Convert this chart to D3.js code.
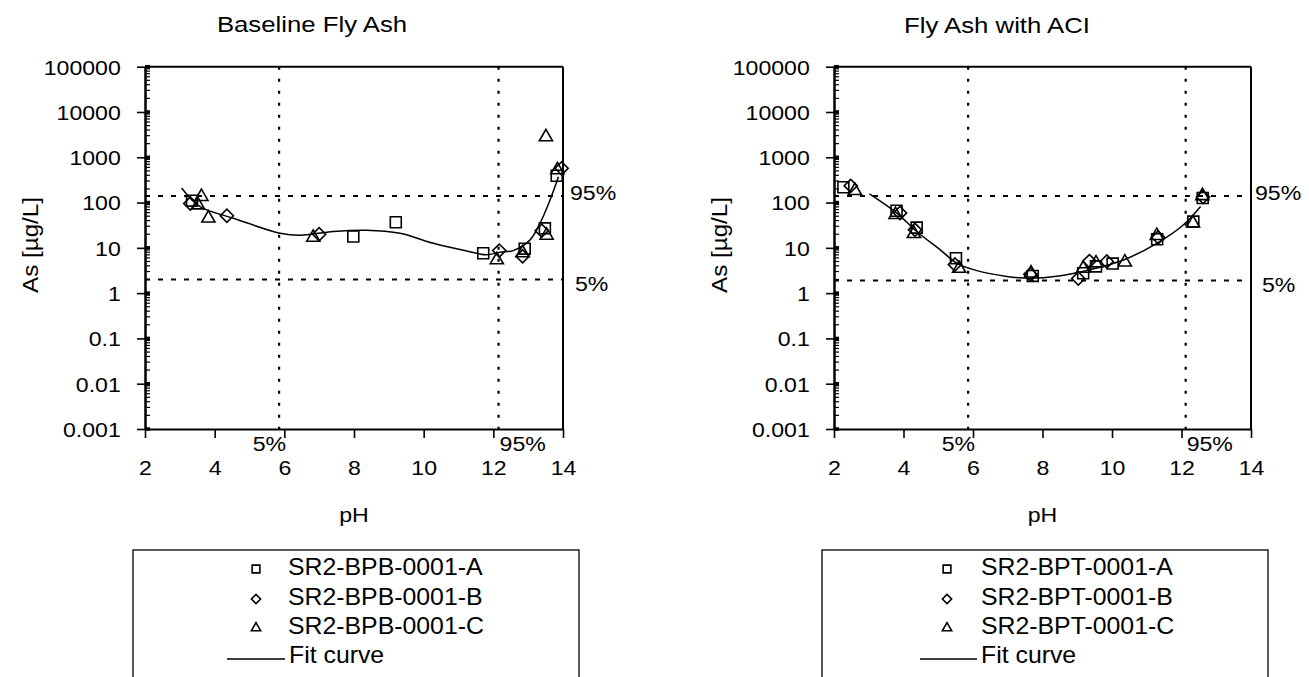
<!DOCTYPE html>
<html>
<head>
<meta charset="utf-8">
<script src="https://cdn.jsdelivr.net/npm/d3@7"></script>
<style>
  body { margin: 0; background: #fff; }
  text { font-family: "Liberation Sans", Arial, sans-serif; fill: #000; }
</style>
</head>
<body>
<svg id="chart" width="1309" height="677"></svg>
<script>
// ---- axis ticks ----
var xTicks = [2, 4, 6, 8, 10, 12, 14];
var yTicks = [0.001, 0.01, 0.1, 1, 10, 100, 1000, 10000, 100000];
var yTickLabels = ["0.001", "0.01", "0.1", "1", "10", "100", "1000", "10000", "100000"];

// ---- Baseline Fly Ash (SR2-BPB-0001) ----
var bpbA_pH = [3.35, 7.98, 9.2, 11.71, 12.9, 13.48, 13.82];
var bpbA_as = [110, 17.8, 36.7, 7.6, 9.6, 27, 390];
var bpbB_pH = [3.3, 4.35, 7.0, 12.17, 12.84, 13.39, 13.96];
var bpbB_as = [95, 51, 20, 8.7, 6.5, 24, 570];
var bpbC_pH = [3.52, 3.62, 3.82, 6.83, 12.1, 12.84, 13.53, 13.51, 13.84];
var bpbC_as = [88, 135, 45, 17, 5.4, 7.7, 18.8, 2800, 525];
var bpbFit_pH = [3.05, 3.58, 4.54, 5.88, 6.45, 7.4, 8.36, 9.32, 10.28, 11.24, 11.8, 12.19, 12.57, 13.05, 13.34, 13.63, 13.87];
var bpbFit_as = [209, 81, 45, 21, 19, 23, 24.5, 21, 12.6, 8.5, 7.0, 8, 8.7, 14.8, 35, 115, 370];
var bpbPctPH = [5.85, 12.15];
var bpbPctAs = [2.0, 140];

// ---- Fly Ash with ACI (SR2-BPT-0001) ----
var bptA_pH = [2.27, 3.8, 4.38, 5.51, 7.72, 9.17, 9.54, 10.02, 11.3, 12.34, 12.61];
var bptA_as = [218, 66, 28, 5.9, 2.4, 2.75, 3.9, 4.5, 15.5, 38, 126];
var bptB_pH = [2.48, 3.9, 4.33, 5.48, 7.65, 9.03, 9.35, 9.85, 11.33, 12.62];
var bptB_as = [234, 59, 25, 4.3, 2.6, 2.1, 5.1, 5.0, 17, 133];
var bptC_pH = [2.6, 3.77, 4.3, 5.6, 7.67, 9.17, 9.54, 10.37, 11.29, 12.33, 12.6];
var bptC_as = [182, 54, 20.5, 3.5, 2.75, 3.5, 4.6, 4.8, 18.6, 35, 141];
var bptFit_pH = [3.02, 3.8, 4.38, 5.05, 5.53, 6.01, 6.97, 7.64, 8.41, 9.37, 10.33, 11.29, 12.05, 12.55];
var bptFit_as = [155, 59, 23, 9.1, 4.6, 3.3, 2.34, 2.14, 2.35, 3.3, 5.4, 12.6, 32, 82];
var bptPctPH = [5.86, 12.12];
var bptPctAs = [1.9, 140];

var svg = d3.select("#chart");
var yTop = 66.7, yBot = 429;
var STRETCH = 1.1;   // the scanned text is a bit wider than Arial

function zip(a, b) { return a.map(function(v, i) { return [v, b[i]]; }); }

function symbolPath(kind, size) {
  if (kind == "square") return d3.symbol().type(d3.symbolSquare).size(size)();
  if (kind == "diamond") return d3.symbol().type(d3.symbolSquare).size(size * 0.72)();
  return d3.symbol().type(d3.symbolTriangle).size(size * 0.62)();
}

function drawPanel(p) {
  var x = d3.scaleLinear().domain([2, 14]).range([p.left, p.right]);
  var y = d3.scaleLog().domain([0.001, 100000]).range([yBot, yTop]);
  var g = svg.append("g");

  // title (sits left of the plot centre in the original)
  g.append("text")
    .attr("transform", "translate(" + p.titleX + "," + p.titleY + ") scale(1.17,1)")
    .attr("text-anchor", "middle")
    .style("font-size", "22px")
    .text(p.title);

  // frame top + right
  g.append("line").attr("x1", p.left).attr("x2", p.right).attr("y1", yTop).attr("y2", yTop)
    .attr("stroke", "#000").attr("stroke-width", 2);
  g.append("line").attr("x1", p.right).attr("x2", p.right).attr("y1", yTop).attr("y2", yBot)
    .attr("stroke", "#000").attr("stroke-width", 2);

  // percentile lines
  g.selectAll(".vpct").data(p.pctPH).enter().append("line")
    .attr("x1", function(d) { return x(d); }).attr("x2", function(d) { return x(d); })
    .attr("y1", yTop).attr("y2", yBot)
    .attr("stroke", "#000").attr("stroke-width", 2.2).attr("stroke-dasharray", "3,9");
  g.selectAll(".hpct").data(p.pctAs).enter().append("line")
    .attr("x1", p.left).attr("x2", p.right)
    .attr("y1", function(d) { return y(d); }).attr("y2", function(d) { return y(d); })
    .attr("stroke", "#000").attr("stroke-width", 2).attr("stroke-dasharray", "5,8");

  // x axis
  var xAxis = d3.axisBottom(x).tickValues(xTicks).tickSize(9).tickSizeOuter(0).tickFormat(d3.format("d"));
  var gx = g.append("g").attr("transform", "translate(0," + yBot + ")").call(xAxis);
  gx.select(".domain").attr("stroke-width", 2);
  gx.selectAll(".tick line").attr("stroke-width", 1.6);
  gx.selectAll(".tick text").attr("y", 46).attr("dy", 0)
    .attr("transform", "scale(" + STRETCH + ",1)")
    .style("font-size", "21px").style("font-family", "Liberation Sans, Arial, sans-serif");

  // y axis
  var yAxis = d3.axisLeft(y).tickValues(yTicks).tickSize(8).tickSizeOuter(0).tickPadding(14)
    .tickFormat(function(d, i) { return yTickLabels[i]; });
  var gy = g.append("g").attr("transform", "translate(" + p.left + ",0)").call(yAxis);
  gy.select(".domain").attr("stroke-width", 2.5);
  gy.selectAll(".tick line").attr("stroke-width", 1.6);
  gy.selectAll(".tick text").attr("dy", "0.35em")
    .attr("transform", "scale(" + STRETCH + ",1)")
    .style("font-size", "21px").style("font-family", "Liberation Sans, Arial, sans-serif");

  // minor ticks (inward) + heavy inner major ticks
  var minor = [];
  yTicks.slice(0, -1).forEach(function(d) {
    for (var k = 2; k <= 9; k++) minor.push(d * k);
  });
  g.selectAll(".minor").data(minor).enter().append("line")
    .attr("x1", p.left).attr("x2", p.left + 5)
    .attr("y1", function(d) { return y(d); }).attr("y2", function(d) { return y(d); })
    .attr("stroke", "#000").attr("stroke-width", 1.2);
  g.selectAll(".major").data(yTicks).enter().append("line")
    .attr("x1", p.left).attr("x2", p.left + 5)
    .attr("y1", function(d) { return y(d); }).attr("y2", function(d) { return y(d); })
    .attr("stroke", "#000").attr("stroke-width", 3.5);

  // percentile labels
  g.append("text").attr("transform", "translate(" + (x(p.pctPH[0]) + 7) + ",451) scale(" + STRETCH + ",1)")
    .attr("text-anchor", "end").style("font-size", "21px").text("5%");
  g.append("text").attr("transform", "translate(" + (x(p.pctPH[1]) + 1) + ",451) scale(" + STRETCH + ",1)")
    .attr("text-anchor", "start").style("font-size", "21px").text("95%");
  g.append("text").attr("transform", "translate(" + (p.right + p.pctOff[0]) + "," + (y(p.pctAs[1]) + 4) + ") scale(" + STRETCH + ",1)")
    .style("font-size", "21px").text("95%");
  g.append("text").attr("transform", "translate(" + (p.right + p.pctOff[1]) + "," + (y(p.pctAs[0]) + 11) + ") scale(" + STRETCH + ",1)")
    .style("font-size", "21px").text("5%");

  // axis titles
  g.append("text")
    .attr("transform", "translate(" + (p.left + p.right) / 2 + ",522) scale(" + STRETCH + ",1)")
    .attr("text-anchor", "middle").style("font-size", "21px").text("pH");
  g.append("text")
    .attr("transform", "translate(" + (p.left - 107) + ",245) rotate(-90) scale(" + STRETCH + ",1)")
    .attr("text-anchor", "middle").style("font-size", "22px").text("As [\u00b5g/L]");

  // fit curve
  var line = d3.line()
    .x(function(d) { return x(d[0]); })
    .y(function(d) { return y(d[1]); })
    .curve(d3.curveCatmullRom.alpha(0.5));
  g.append("path").datum(zip(p.fitPH, p.fitAs))
    .attr("d", line).attr("fill", "none").attr("stroke", "#000").attr("stroke-width", 1.5);

  // markers
  p.series.forEach(function(s) {
    g.selectAll(".m-" + s.kind).data(zip(s.ph, s.as)).enter().append("path")
      .attr("d", symbolPath(s.kind, 120))
      .attr("transform", function(d) {
        return "translate(" + x(d[0]) + "," + y(d[1]) + ")" + (s.kind == "diamond" ? " rotate(45)" : "");
      })
      .attr("fill", "none").attr("stroke", "#000").attr("stroke-width", 1.6);
  });

  // legend
  var lg = g.append("g");
  lg.append("rect").attr("x", p.legX).attr("y", 550).attr("width", 446).attr("height", 140)
    .attr("fill", "none").attr("stroke", "#000").attr("stroke-width", 1.3);
  var rowsBase = [575, 605, 634, 663];
  p.series.forEach(function(s, i) {
    lg.append("path").attr("d", symbolPath(s.kind, 60))
      .attr("transform", "translate(" + p.legSymX + "," + (rowsBase[i] - 6) + ")" + (s.kind == "diamond" ? " rotate(45)" : ""))
      .attr("fill", "none").attr("stroke", "#000").attr("stroke-width", 1.6);
    lg.append("text")
      .attr("transform", "translate(" + p.legTextX + "," + rowsBase[i] + ") scale(1.08,1)")
      .style("font-size", "23px").text(s.name);
  });
  lg.append("line").attr("x1", p.legLine[0]).attr("x2", p.legLine[1]).attr("y1", 659).attr("y2", 659)
    .attr("stroke", "#000").attr("stroke-width", 1.3);
  lg.append("text")
    .attr("transform", "translate(" + (p.legLine[1] + 4) + "," + rowsBase[3] + ") scale(1.08,1)")
    .style("font-size", "23px").text("Fit curve");
}

drawPanel({
  title: "Baseline Fly Ash", titleX: 312, titleY: 32,
  left: 145, right: 563,
  pctPH: bpbPctPH, pctAs: bpbPctAs, pctOff: [7, 12],
  fitPH: bpbFit_pH, fitAs: bpbFit_as,
  series: [
    { name: "SR2-BPB-0001-A", kind: "square", ph: bpbA_pH, as: bpbA_as },
    { name: "SR2-BPB-0001-B", kind: "diamond", ph: bpbB_pH, as: bpbB_as },
    { name: "SR2-BPB-0001-C", kind: "triangle", ph: bpbC_pH, as: bpbC_as }
  ],
  legX: 133, legSymX: 256, legTextX: 288, legLine: [227, 285]
});

drawPanel({
  title: "Fly Ash with ACI", titleX: 997, titleY: 33,
  left: 834, right: 1251,
  pctPH: bptPctPH, pctAs: bptPctAs, pctOff: [4, 11],
  fitPH: bptFit_pH, fitAs: bptFit_as,
  series: [
    { name: "SR2-BPT-0001-A", kind: "square", ph: bptA_pH, as: bptA_as },
    { name: "SR2-BPT-0001-B", kind: "diamond", ph: bptB_pH, as: bptB_as },
    { name: "SR2-BPT-0001-C", kind: "triangle", ph: bptC_pH, as: bptC_as }
  ],
  legX: 822, legSymX: 947, legTextX: 981, legLine: [920, 977]
});
</script>
</body>
</html>
